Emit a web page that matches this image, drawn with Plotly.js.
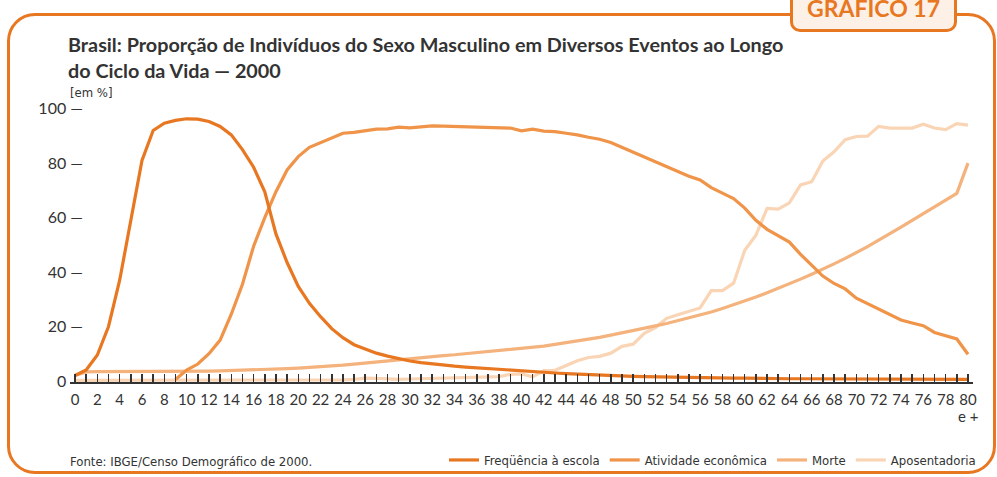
<!DOCTYPE html>
<html>
<head>
<meta charset="utf-8">
<script src="https://cdn.plot.ly/plotly-3.0.1.min.js"></script>
<style>
  html, body { margin: 0; padding: 0; background: #ffffff; }
  #wrap { position: relative; width: 997px; height: 477px; overflow: hidden; }
  #frame { position: absolute; left: 7px; top: 13px; width: 983px; height: 455px;
           border: 3px solid #e87722; border-radius: 28px; box-sizing: content-box; }
  #tab { position: absolute; left: 790px; top: -22px; width: 161px; height: 48px;
         border: 3px solid #e87722; border-radius: 10px; background: #fdf0e7;
         color: #e87722; font-family: Lato, "Open Sans", sans-serif; font-weight: 700;
         font-size: 23px; text-align: center; line-height: 1; box-sizing: content-box; }
  #tab span { position: absolute; left: 0; right: 0; top: 16px; }
  #chart { position: absolute; left: 0; top: 0; width: 997px; height: 477px; }
</style>
</head>
<body>
<div id="wrap">
  <div id="frame"></div>
  <div id="chart"></div>
  <div id="tab"><span>GRÁFICO 17</span></div>
</div>
<script>
// Ages (x categories)
const ages = [0,1,2,3,4,5,6,7,8,9,10,11,12,13,14,15,16,17,18,19,20,21,22,23,24,25,26,27,28,29,30,
  31,32,33,34,35,36,37,38,39,40,41,42,43,44,45,46,47,48,49,50,51,52,53,54,55,56,57,58,59,60,
  61,62,63,64,65,66,67,68,69,70,71,72,73,74,75,76,77,78,79,80];

// Freqüência à escola (%)
const frequenciaEscola = [2,4,9.5,20,37,59,81,92,94.7,95.7,96.3,96.2,95.3,93.5,90.4,85,78.5,69.5,54,43.5,
  34.7,28.5,23.6,19.2,15.9,13.3,11.6,10.2,9.1,8.1,7.3,6.7,6.2,5.8,5.4,5.1,4.8,4.5,4.2,3.9,
  3.6,3.3,3.1,2.9,2.7,2.5,2.3,2.2,2.0,1.9,1.7,1.6,1.5,1.4,1.3,1.3,1.2,1.1,1.1,1.0,
  1.0,0.9,0.9,0.9,0.8,0.8,0.8,0.8,0.7,0.7,0.7,0.7,0.7,0.6,0.6,0.6,0.6,0.6,0.6,0.6,0.6];

// Atividade econômica (%)
const atividadeEconomica = [null,null,null,null,null,null,null,null,null,0.5,4,6.2,10,15,24.5,35.5,49.5,60,69.5,77.5,
  82.4,85.8,87.6,89.3,91,91.3,92,92.5,92.6,93.2,93,93.4,93.7,93.6,93.5,93.4,93.3,93.3,93.1,92.9,
  91.9,92.5,91.8,91.6,91,90.4,89.5,88.8,87.6,85.8,84,82.3,80.5,78.7,76.8,75.2,73.8,71,69,67,
  63.5,59,55.7,53.5,51,46.5,42.5,38.5,35.8,33.8,30.4,28.4,26.4,24.4,22.4,21.3,20.3,17.8,16.6,15.4,9.8];

// Morte (%)
const morte = [2,3.3,3.4,3.4,3.4,3.4,3.4,3.4,3.4,3.5,3.5,3.6,3.6,3.7,3.8,3.9,4.0,4.1,4.3,4.5,
  4.7,4.9,5.2,5.5,5.8,6.2,6.6,7.0,7.4,7.9,8.2,8.5,8.9,9.3,9.6,10.0,10.3,10.7,11.0,11.4,
  11.8,12.2,12.8,13.4,14,14.6,15.3,16,16.8,17.6,18.4,19.3,20.2,21.1,22.1,23.1,24.1,25.3,26.6,27.9,
  29.3,30.8,32.4,34,35.6,37.4,39.2,41,43,45,47,49.3,51.7,54,56.5,59,61.5,64,66.5,68.9,80];

// Aposentadoria (%)
const aposentadoria = [0.2,0.2,0.2,0.2,0.2,0.2,0.2,0.2,0.2,0.2,0.2,0.2,0.2,0.2,0.2,0.2,0.2,0.2,0.2,0.2,
  0.2,0.2,0.3,0.3,0.4,0.6,1,0.9,0.7,0.6,0.7,0.8,0.8,0.9,1.0,1.0,1.1,1.3,1.6,2.4,
  2.6,1.5,3.8,3.9,5.6,7.4,8.6,9.0,10.2,12.7,13.5,17.5,19.6,23,24.3,25.5,26.8,33.2,33.2,35.9,
  48,53.5,63.4,63.1,65.4,72,73.2,80.8,84.2,88.6,89.8,89.9,93.5,92.9,92.9,92.9,94.3,92.9,92.3,94.5,94];

const seriesNames = ['Freqüência à escola','Atividade econômica','Morte','Aposentadoria'];
const seriesColors = ['#e87722','#ef9448','#f4b27c','#f9d5b5'];
const seriesData = [frequenciaEscola, atividadeEconomica, morte, aposentadoria];

// x tick labels: every year ticked, even years labelled
const xTickVals = ages;
const xTickText = ages.map(a => (a % 2 === 0 ? String(a) : ''));
const lastAgeSuffix = 'e +';

// y ticks
const yTickVals = [0,20,40,60,80,100];
const yTickText = ['0 <span style="color:rgba(0,0,0,0)">—</span>','20 —','40 —','60 —','80 —','100 —'];

const traces = [];
for (let i = seriesData.length - 1; i >= 0; i--) {
  traces.push({
    x: ages, y: seriesData[i], name: seriesNames[i], type: 'scatter', mode: 'lines',
    line: {color: seriesColors[i], width: 3.2}, connectgaps: false, hoverinfo: 'skip'
  });
}

const narrow = '"Liberation Sans Narrow", "DejaVu Sans Condensed", "Roboto", sans-serif';
const plotH = 276;

const layout = {
  width: 997, height: 477,
  paper_bgcolor: 'rgba(0,0,0,0)', plot_bgcolor: 'rgba(0,0,0,0)',
  margin: {l: 70, r: 24, t: 106, b: 95},
  font: {family: 'Lato, "Open Sans", sans-serif', color: '#333333'},
  title: {
    text: 'Brasil: Proporção de Indivíduos do Sexo Masculino em Diversos Eventos ao Longo<br>do Ciclo da Vida — 2000',
    font: {family: 'Lato, "Open Sans", sans-serif', size: 19.8, color: '#333333', weight: 700},
    x: 68/997, xref: 'container', xanchor: 'left',
    y: 1 - 52/477, yref: 'container', yanchor: 'top'
  },
  xaxis: {
    range: [-0.45, 80.45], tickmode: 'array', tickvals: xTickVals, ticktext: xTickText,
    ticks: 'inside', ticklen: 8, tickwidth: 1.5, tickcolor: '#333333',
    showline: true, linecolor: '#333333', linewidth: 2,
    showgrid: false, zeroline: false, tickangle: 0,
    tickfont: {size: 15, color: '#333333', family: 'Lato, "Open Sans", sans-serif'},
    ticklabelstandoff: 3, fixedrange: true
  },
  yaxis: {
    range: [-0.4, 101], tickmode: 'array', tickvals: yTickVals, ticktext: yTickText,
    ticks: '', showline: false, showgrid: false, zeroline: false,
    tickfont: {size: 16, color: '#333333', family: 'Lato, "Open Sans", sans-serif'},
    ticklabelstandoff: -14, fixedrange: true
  },
  showlegend: true,
  legend: {
    orientation: 'h', xref: 'container', yref: 'container',
    x: 444/997, xanchor: 'left', y: 1 - 445/477, yanchor: 'top',
    traceorder: 'reversed', bgcolor: 'rgba(0,0,0,0)',
    font: {family: narrow, size: 13, color: '#333333'},
    itemwidth: 30
  },
  annotations: [
    {text: lastAgeSuffix, xref: 'x', yref: 'paper', x: 80, xanchor: 'center',
     y: -(406 - 383)/plotH, yanchor: 'top', showarrow: false,
     font: {family: 'Lato, "Open Sans", sans-serif', size: 15, color: '#333333'}},
    {text: '[em %]', xref: 'paper', yref: 'paper', x: -2/903, xanchor: 'left',
     y: 1 + (106 - 102)/plotH, yanchor: 'bottom', showarrow: false,
     font: {family: narrow, size: 13, color: '#333333'}},
    {text: 'Fonte: IBGE/Censo Demográfico de 2000.', xref: 'paper', yref: 'paper',
     x: -2/903, xanchor: 'left', y: -(472 - 383)/plotH, yanchor: 'bottom', showarrow: false,
     font: {family: narrow, size: 13, color: '#333333'}}
  ]
};

Plotly.newPlot('chart', traces, layout, {displayModeBar: false, staticPlot: true});
</script>
</body>
</html>
